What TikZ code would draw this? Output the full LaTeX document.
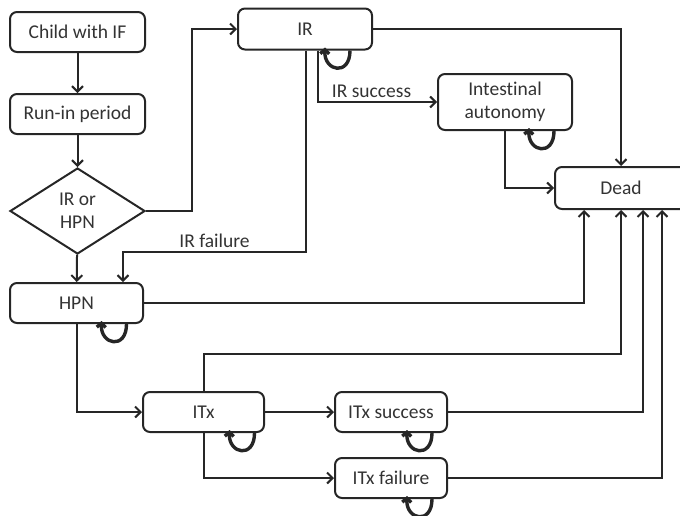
\documentclass[tikz,border=0pt]{standalone}
\usepackage{fontspec}
\setmainfont[Ligatures=NoCommon]{Carlito}
\usetikzlibrary{shapes.geometric,arrows.meta}

\begin{document}
\begin{tikzpicture}[x=1pt,y=-1pt,
    state/.style={draw=black!85,rounded corners=7pt,line width=2pt,minimum height=40pt,
      align=center,text=black!80,font=\fontsize{19.5}{23}\selectfont},
    flow/.style={draw=black!85,line width=2pt,-{Straight Barb[length=5.5pt,width=11pt]}},
    stay/.style={draw=black!85,line width=3.4pt,-{Straight Barb[length=4pt,width=9pt]}}]
    \useasboundingbox (0,0) rectangle (680,515);
    \node[state,minimum width=135pt] (child) at (77.5,32) {Child with IF};
    \node[state,minimum width=135pt] (runin) at (77.5,114) {Run-in period};
    \node[draw=black!85,diamond,line width=2pt,minimum width=135pt,minimum height=86pt,inner sep=0pt,
      align=center,text=black!80,font=\fontsize{19.5}{23}\selectfont] (choice) at (77.5,211) {IR or\\HPN};
    \node[state,minimum width=133pt] (hpn) at (76.5,303) {HPN};
    \node[state,minimum width=134pt,minimum height=41pt] (ir) at (305,29) {IR};
    \node[state,minimum width=134pt,minimum height=56pt] (auto) at (505,102) {Intestinal\\autonomy};
    \node[state,minimum width=132pt,minimum height=42pt] (dead) at (621,188) {Dead};
    \node[state,minimum width=121pt] (itx) at (203.5,412) {ITx};
    \node[state,minimum width=112pt] (itxs) at (391,412) {ITx success};
    \node[state,minimum width=112pt] (itxf) at (391,478) {ITx failure};
    % main flow
    \draw[flow] (child) -- (runin);
    \draw[flow] (runin) -- (choice);
    \draw[flow] (choice) -- (hpn);
    \draw[flow] (choice.east) -- ++(46,0) |- (ir.west);
    \draw[flow] ([xshift=1pt]ir.south) -- ++(0,201.5) -| ([xshift=46.5pt]hpn.north)
      node[pos=0.25,above,text=black!80,font=\fontsize{19.5}{23}\selectfont] {IR failure};
    \draw[flow] ([xshift=13pt]ir.south) |- (auto.west)
      node[pos=0.725,above,text=black!80,font=\fontsize{19.5}{23}\selectfont] {IR success};
    \draw[flow] (hpn.south) |- (itx.west);
    \draw[flow] (itx) -- (itxs);
    \draw[flow] (itx.south) |- (itxf.west);
    % into Dead
    \draw[flow] (ir.east) -| (dead.north);
    \draw[flow] (auto.south) |- (dead.west);
    \draw[flow] (hpn.east) -| ([xshift=-37pt]dead.south);
    \draw[flow] (itx.north) -- ++(0,-37) -| (dead.south);
    \draw[flow] (itxs.east) -| ([xshift=22pt]dead.south);
    \draw[flow] (itxf.east) -| ([xshift=41pt]dead.south);
    % staying in a state
    \foreach \N/\D in {ir/31,hpn/36,itx/37,itxs/27,itxf/27,auto/35}
      \draw[stay] ([xshift=\D pt+14pt]\N.south) .. controls +(0,26) and +(-1,24) .. ([xshift=\D pt-11pt,yshift=3pt]\N.south);
\end{tikzpicture}
\end{document}
